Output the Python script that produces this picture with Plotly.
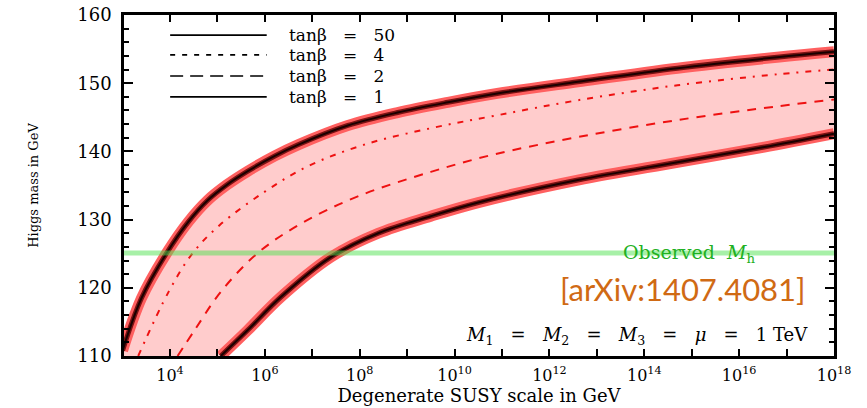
import plotly.graph_objects as go

# ---------------- data ----------------
# log10 of the degenerate SUSY scale in GeV, Higgs mass in GeV
tb50_exp = [3.0, 3.4, 3.93, 4.39, 4.79, 5.2, 5.64, 6.2, 6.71, 7.75, 8.8, 9.86, 10.9, 12.6, 14.7, 16.8, 18.0]
tb50_mh = [110.8, 118.5, 125.1, 129.7, 132.8, 135.1, 137.1, 139.3, 141.0, 143.8, 145.7, 147.2, 148.5, 150.2, 152.2, 153.8, 154.6]

tb4_exp = [3.33, 3.97, 4.48, 5.05, 6.0, 6.9, 8.1, 9.5, 10.9, 12.6, 14.7, 16.8, 18.0]
tb4_mh = [110.0, 119.4, 125.1, 129.2, 134.1, 137.8, 141.0, 143.4, 145.3, 147.5, 149.7, 151.3, 152.0]

tb2_exp = [4.16, 4.52, 5.07, 5.85, 6.76, 7.96, 9.5, 10.8, 12.6, 14.7, 16.8, 18.0]
tb2_mh = [110.0, 113.8, 119.4, 125.1, 129.4, 133.4, 137.0, 139.5, 142.1, 144.6, 146.6, 147.6]

tb1_exp = [5.07, 5.64, 6.33, 7.39, 8.39, 9.5, 10.5, 12.6, 14.7, 16.5, 18.0]
tb1_mh = [110.0, 113.8, 118.6, 124.5, 128.0, 130.5, 132.5, 135.8, 138.4, 140.6, 142.6]

observed_mh = 125.1

NB = "\u00a0"
legend_labels = [f"tan\u03b2{NB}{NB}{NB}={NB}{NB}{NB}{v}" for v in ["50", "4", "2", "1"]]
x_tick_exps = list(range(4, 19))
x_tick_text = [f"10<sup>{e}</sup>" if e % 2 == 0 else "" for e in x_tick_exps]

X_RANGE = [3.03, 18.0]
Y_RANGE = [110, 160]

SERIF = "DejaVu Serif, Liberation Serif, serif"


def gev(exps):
    return [10 ** e for e in exps]


fig = go.Figure()

# pink band between tanb=50 and tanb=1
fig.add_trace(go.Scatter(x=gev(tb50_exp), y=tb50_mh, mode="lines",
                         line=dict(width=0, shape="spline"), hoverinfo="skip", showlegend=False))
fig.add_trace(go.Scatter(x=gev([X_RANGE[0] - 0.1] + tb1_exp), y=[Y_RANGE[0]] + tb1_mh, mode="lines",
                         line=dict(width=0, shape="spline"), fill="tonexty",
                         fillcolor="#ffcccc", hoverinfo="skip", showlegend=False))

# thick banded curves for tanb = 50 and tanb = 1
for ex, mh in [(tb50_exp, tb50_mh), (tb1_exp, tb1_mh)]:
    fig.add_trace(go.Scatter(x=gev(ex), y=mh, mode="lines",
                             line=dict(color="#ff6060", width=11, shape="spline"),
                             hoverinfo="skip", showlegend=False))
    fig.add_trace(go.Scatter(x=gev(ex), y=mh, mode="lines",
                             line=dict(color="#7a1212", width=5, shape="spline"),
                             hoverinfo="skip", showlegend=False))
    fig.add_trace(go.Scatter(x=gev(ex), y=mh, mode="lines",
                             line=dict(color="#1a0000", width=2, shape="spline"),
                             hoverinfo="skip", showlegend=False))

# tanb = 4 (dash-dot) and tanb = 2 (dashed)
fig.add_trace(go.Scatter(x=gev(tb4_exp), y=tb4_mh, mode="lines",
                         line=dict(color="#ee1111", width=2, dash="6px,7px,2px,7px", shape="spline"),
                         hoverinfo="skip", showlegend=False))
fig.add_trace(go.Scatter(x=gev(tb2_exp), y=tb2_mh, mode="lines",
                         line=dict(color="#ee1111", width=2, dash="9px,8px", shape="spline"),
                         hoverinfo="skip", showlegend=False))

shapes = [
    dict(type="line", xref="paper", yref="y", x0=0, x1=1, y0=observed_mh, y1=observed_mh,
         line=dict(color="rgba(80,225,80,0.5)", width=5), layer="above"),
]

# legend (drawn manually, like the original)
leg_y = [0.941, 0.883, 0.821, 0.760]
leg_dash = ["solid", "5px,7px", "13px,7px", "solid"]
for yy, dd in zip(leg_y, leg_dash):
    shapes.append(dict(type="line", xref="paper", yref="paper", x0=0.065, x1=0.201, y0=yy, y1=yy,
                       line=dict(color="black", width=1.6, dash=dd)))

annotations = []
for yy, lab in zip(leg_y, legend_labels):
    annotations.append(dict(xref="paper", yref="paper", x=0.229, y=yy, text=lab, showarrow=False,
                            xanchor="left", yanchor="middle", font=dict(family=SERIF, size=17, color="black")))

annotations.append(dict(xref="paper", yref="y", x=0.797, y=observed_mh,
                        text=f"Observed{NB}{NB}<i>M</i><sub>h</sub>", showarrow=False,
                        xanchor="center", yanchor="middle",
                        font=dict(family=SERIF, size=19, color="#22b022")))
annotations.append(dict(xref="paper", yref="paper", x=0.964, y=0.196,
                        text="[arXiv:1407.4081]", showarrow=False, xanchor="right", yanchor="middle",
                        font=dict(family="Lato, Liberation Sans, sans-serif",
                                  size=31, color="#d06a14")))
sep = f"{NB}{NB}{NB}={NB}{NB}{NB}"
annotations.append(dict(xref="paper", yref="paper", x=0.966, y=0.06,
                        text=f"<i>M</i><sub>1</sub>{sep}<i>M</i><sub>2</sub>{sep}"
                             f"<i>M</i><sub>3</sub>{sep}<i>\u03bc</i>{sep}1 TeV",
                        showarrow=False, xanchor="right", yanchor="middle",
                        font=dict(family=SERIF, size=18, color="black")))

fig.update_layout(
    width=867, height=408,
    margin=dict(l=124, r=33, t=15, b=52),
    paper_bgcolor="white", plot_bgcolor="white",
    showlegend=False,
    shapes=shapes,
    annotations=annotations,
    xaxis=dict(type="log", range=X_RANGE, automargin=False,
               tickvals=gev(x_tick_exps), ticktext=x_tick_text,
               ticks="inside", ticklen=7, tickwidth=2, tickcolor="black",
               showline=True, linecolor="black", linewidth=2.5, mirror="ticks",
               showgrid=False, zeroline=False, ticklabelstandoff=3,
               tickfont=dict(family=SERIF, size=16, color="black"),
               title=dict(text="Degenerate SUSY scale in GeV", standoff=4,
                          font=dict(family=SERIF, size=18, color="black"))),
    yaxis=dict(range=Y_RANGE, tickvals=[110, 120, 130, 140, 150, 160], automargin=False,
               ticks="inside", ticklen=9, tickwidth=2, tickcolor="black",
               minor=dict(dtick=2, ticks="inside", ticklen=5, tickwidth=2, tickcolor="black", showgrid=False),
               showline=True, linecolor="black", linewidth=2.5, mirror="ticks",
               showgrid=False, zeroline=False, ticklabelstandoff=6,
               tickfont=dict(family=SERIF, size=18, color="black"),
               title=dict(text="Higgs mass in GeV", standoff=36,
                          font=dict(family=SERIF, size=13, color="black"))),
)

fig.write_html("out.html")
